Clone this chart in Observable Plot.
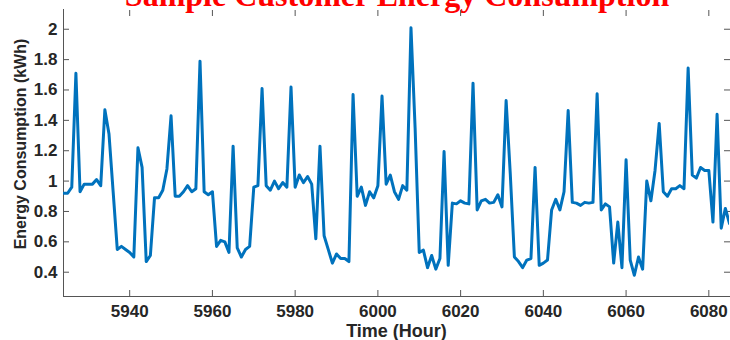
<!DOCTYPE html>
<html><head><meta charset="utf-8">
<script src="https://cdn.jsdelivr.net/npm/d3@7"></script>
<script src="https://cdn.jsdelivr.net/npm/@observablehq/plot@0.6"></script>
<style>
body{margin:0;background:#fff;overflow:hidden}
#wrap{position:relative;width:730px;height:340px;overflow:hidden}
#title{position:absolute;left:0;width:794px;text-align:center;top:-21px;font-family:"Liberation Serif","Times New Roman",serif;font-weight:bold;font-size:32px;line-height:32px;color:#ff0000;white-space:nowrap}
#chart{position:absolute;left:0;top:0}
</style></head>
<body><div id="wrap"><div id="title"></div><div id="chart"></div></div>
<script>
const titleText = "Sample Customer Energy Consumption";
const xLabel = "Time (Hour)";
const yLabel = "Energy Consumption (kWh)";
const startHour = 5924;
const energy = [
  0.92, 0.92, 0.96, 1.71, 0.93, 0.98, 0.98, 0.98, 1.01, 0.97,
  1.47, 1.31, 0.93, 0.55, 0.57, 0.55, 0.53, 0.50, 1.22, 1.09,
  0.47, 0.51, 0.89, 0.89, 0.94, 1.08, 1.43, 0.90, 0.90, 0.93,
  0.97, 0.93, 0.95, 1.79, 0.93, 0.91, 0.93, 0.57, 0.61, 0.60,
  0.53, 1.23, 0.56, 0.50, 0.55, 0.57, 0.96, 0.97, 1.61, 0.97,
  0.94, 1.00, 0.95, 0.99, 0.96, 1.62, 0.96, 1.04, 0.99, 1.03,
  0.98, 0.62, 1.23, 0.64, 0.55, 0.46, 0.52, 0.49, 0.49, 0.47,
  1.57, 0.90, 0.96, 0.84, 0.93, 0.89, 0.97, 1.56, 0.98, 1.04,
  0.93, 0.88, 0.97, 0.94, 2.01, 1.35, 0.53, 0.545, 0.43, 0.51,
  0.42, 0.49, 1.195, 0.445, 0.855, 0.85, 0.87, 0.855, 0.85, 1.645,
  0.81, 0.87, 0.88, 0.855, 0.86, 0.91, 0.83, 1.53, 1.05, 0.50,
  0.47, 0.43, 0.48, 0.49, 1.09, 0.445, 0.46, 0.48, 0.81, 0.88,
  0.81, 0.93, 1.465, 0.86, 0.855, 0.84, 0.86, 0.855, 0.86, 1.575,
  0.81, 0.85, 0.83, 0.46, 0.73, 0.43, 1.14, 0.48, 0.38, 0.50,
  0.42, 1.00, 0.87, 1.07, 1.38, 0.93, 0.90, 0.95, 0.95, 0.97,
  0.95, 1.745, 1.04, 1.02, 1.09, 1.07, 1.07, 0.73, 1.44, 0.69,
  0.82, 0.72
];
const xTicks = [5940, 5960, 5980, 6000, 6020, 6040, 6060, 6080];
const yTicks = [0.4, 0.6, 0.8, 1, 1.2, 1.4, 1.6, 1.8, 2];

document.getElementById("title").textContent = titleText;
const data = energy.map((v, i) => ({hour: startHour + i, kwh: v}));
const axisColor = "#555";
const fmt = d => String(d);

const chart = Plot.plot({
  width: 730, height: 340,
  marginLeft: 63, marginRight: 1, marginTop: 9, marginBottom: 44,
  style: {fontFamily: "'Liberation Sans', Arial, sans-serif", fontSize: "17px", fontWeight: "bold", color: "#262626", background: "transparent", overflow: "visible"},
  x: {domain: [5924, 6085]},
  y: {domain: [0.24, 2.13]},
  marks: [
    Plot.axisY(yTicks, {anchor: "left", tickSize: 0, tickPadding: 6, tickFormat: fmt, label: null}),
    Plot.axisY(yTicks, {anchor: "left", tickSize: 6, insetLeft: 6, fill: "none", stroke: axisColor, label: null}),
    Plot.axisY(yTicks, {anchor: "right", tickSize: 6, insetRight: 6, fill: "none", stroke: axisColor, label: null}),
    Plot.axisX(xTicks, {anchor: "bottom", tickSize: 0, tickPadding: 8, tickFormat: fmt, label: null}),
    Plot.axisX(xTicks, {anchor: "bottom", tickSize: 6, insetBottom: 6, fill: "none", stroke: axisColor, label: null}),
    Plot.axisX(xTicks, {anchor: "top", tickSize: 6, insetTop: 6, fill: "none", stroke: axisColor, label: null}),
    Plot.frame({anchor: "left", stroke: axisColor}),
    Plot.frame({anchor: "bottom", stroke: axisColor}),
    Plot.line(data, {x: "hour", y: "kwh", stroke: "#0072BD", strokeWidth: 3, strokeLinejoin: "round", clip: true}),
    Plot.text([yLabel], {text: d => d, frameAnchor: "left", textAnchor: "middle", lineAnchor: "middle", rotate: -90, dx: -43, dy: -9, fontSize: 16, fontWeight: "bold", fill: "#262626"}),
    Plot.text([xLabel], {text: d => d, frameAnchor: "bottom", textAnchor: "middle", lineAnchor: "middle", dy: 35, fontSize: 18, fontWeight: "bold", fill: "#262626"})
  ]
});
document.getElementById("chart").appendChild(chart);
</script>
</body></html>
